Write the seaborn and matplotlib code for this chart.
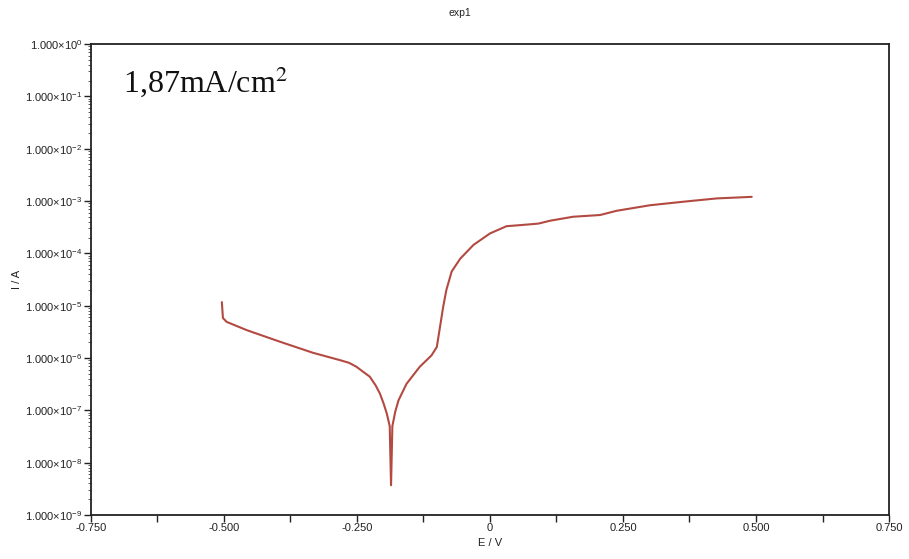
import matplotlib
matplotlib.use("Agg")
import matplotlib.pyplot as plt
from matplotlib.ticker import FixedLocator, FuncFormatter, LogLocator, NullFormatter
import numpy as np
import pandas as pd
import seaborn as sns

# Polarisation scan, in scan order (E in V, I in A)
potential_V = [-0.504, -0.502, -0.495, -0.457, -0.395, -0.333, -0.282, -0.265,
               -0.251, -0.240, -0.226, -0.215, -0.207, -0.200, -0.194, -0.1885,
               -0.1860, -0.1835, -0.178, -0.172, -0.157, -0.132, -0.110, -0.100,
               -0.094, -0.088, -0.082, -0.072, -0.056, -0.031, 0.000, 0.031,
               0.063, 0.091, 0.113, 0.156, 0.207, 0.238, 0.301, 0.364, 0.426,
               0.492]
current_A = [1.17e-5, 5.8e-6, 4.9e-6, 3.4e-6, 2.05e-6, 1.26e-6, 9.1e-7, 8.1e-7,
             6.8e-7, 5.6e-7, 4.4e-7, 3.0e-7, 2.1e-7, 1.35e-7, 8.7e-8, 5.0e-8,
             3.7e-9, 5.0e-8, 9.5e-8, 1.55e-7, 3.2e-7, 6.8e-7, 1.12e-6, 1.62e-6,
             3.9e-6, 9.5e-6, 2.0e-5, 4.5e-5, 7.9e-5, 1.45e-4, 2.4e-4, 3.3e-4,
             3.5e-4, 3.7e-4, 4.2e-4, 5.0e-4, 5.4e-4, 6.5e-4, 8.3e-4, 9.7e-4, 1.12e-3,
             1.20e-3]

x_ticks = [-0.75, -0.5, -0.25, 0.0, 0.25, 0.5, 0.75]
y_exponents = [0, -1, -2, -3, -4, -5, -6, -7, -8, -9]

title_text = "exp1"
annotation_text = "1,87mA/cm$^2$"

df = pd.DataFrame({"E": potential_V, "I": current_A})

sns.set_theme(style="white")
plt.rcParams["font.family"] = ["Liberation Sans", "DejaVu Sans"]
plt.rcParams["mathtext.fontset"] = "custom"
plt.rcParams["mathtext.rm"] = "Liberation Sans"

fig = plt.figure(figsize=(9.09, 5.59), dpi=100)
ax = fig.add_axes([0.1001, 0.0787, 0.8779, 0.8426])

sns.lineplot(data=df, x="E", y="I", sort=False, estimator=None,
             color="#b34a42", linewidth=1.5, ax=ax)
ax.lines[0].set_solid_joinstyle("round")

ax.set_yscale("log")
ax.set_xlim(-0.75, 0.75)
ax.set_ylim(1e-9, 1e0)

ax.xaxis.set_major_locator(FixedLocator(x_ticks))
ax.xaxis.set_minor_locator(FixedLocator(np.arange(-0.625, 0.75, 0.25)))
ax.xaxis.set_major_formatter(
    FuncFormatter(lambda v, _: "0" if abs(v) < 1e-9 else f"{v:.3f}"))

ax.yaxis.set_major_locator(FixedLocator([10.0 ** e for e in y_exponents]))
ax.yaxis.set_major_formatter(
    FuncFormatter(lambda v, _: r"1.000$\times$10$^{%d}$" % round(np.log10(v))))
ax.yaxis.set_minor_locator(LogLocator(base=10, subs=np.arange(2, 10), numticks=20))
ax.yaxis.set_minor_formatter(NullFormatter())

ax.tick_params(axis="both", which="major", direction="out", length=5, width=1,
               color="#222222", labelsize=8, labelcolor="#222222", pad=1,
               left=True, bottom=True)
ax.tick_params(axis="x", which="minor", direction="out", length=5, width=1,
               color="#222222", bottom=True)
ax.tick_params(axis="y", which="minor", direction="out", length=2, width=0.6,
               color="#444444", left=True)

for side in ["left", "right", "top", "bottom"]:
    ax.spines[side].set_visible(True)
    ax.spines[side].set_color("#222222")
    ax.spines[side].set_linewidth(1.3)

ax.set_xlabel("E / V", fontsize=8, color="#222222", labelpad=3)
ax.set_ylabel("I / A", fontsize=8, color="#222222", labelpad=2)

fig.text(460 / 909, 1 - 13 / 559, title_text, fontsize=7.5, color="#222222",
         ha="center", va="center")

ax.text(0.04, 0.92, annotation_text, transform=ax.transAxes,
        fontsize=23, family=["Liberation Serif", "DejaVu Serif"],
        color="#111111", ha="left", va="center",
        math_fontfamily="stix")

fig.savefig("out.png", dpi=100)
